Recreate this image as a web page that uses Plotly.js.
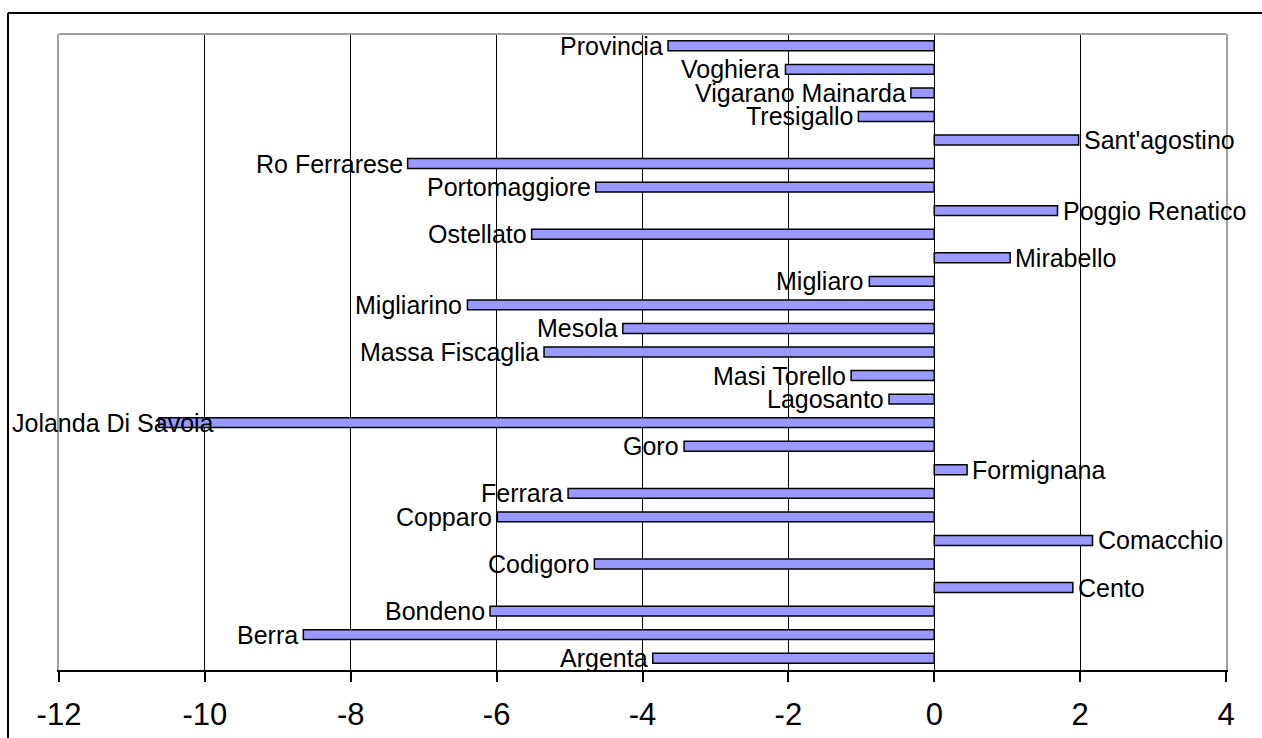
<!DOCTYPE html>
<html>
<head>
<meta charset="utf-8">
<script src="https://cdn.plot.ly/plotly-3.0.1.min.js"></script>
<style>
html,body{margin:0;padding:0;background:#fff;}
#chart{width:1262px;height:738px;}
</style>
</head>
<body>
<div id="chart"></div>
<script>
// Categories (bottom to top)
const comuni = [
  "Argenta","Berra","Bondeno","Cento","Codigoro","Comacchio","Copparo",
  "Ferrara","Formignana","Goro","Jolanda Di Savoia","Lagosanto","Masi Torello",
  "Massa Fiscaglia","Mesola","Migliarino","Migliaro","Mirabello","Ostellato",
  "Poggio Renatico","Portomaggiore","Ro Ferrarese","Sant'agostino","Tresigallo",
  "Vigarano Mainarda","Voghiera","Provincia"
];
const valori = [
  -3.86,-8.65,-6.09,1.90,-4.66,2.17,-5.99,
  -5.02,0.45,-3.43,-10.63,-0.62,-1.14,
  -5.35,-4.27,-6.40,-0.89,1.04,-5.52,
  1.69,-4.64,-7.22,1.98,-1.04,
  -0.32,-2.04,-3.65
];
const tickVals = [-12,-10,-8,-6,-4,-2,0,2,4];
const tickText = ["-12","-10","-8","-6","-4","-2","0","2","4"];

const FONT = "Liberation Sans, Arial, sans-serif";

const bars = {
  type: "bar",
  orientation: "h",
  x: valori,
  y: comuni,
  width: 0.42,
  marker: {color: "#9999FF", line: {color: "#000000", width: 1.5}},
  hoverinfo: "x+y",
  cliponaxis: false
};

const annotations = comuni.map((c, i) => {
  const v = valori[i];
  if (v < -10) {
    // label would run off the chart: pinned to the chart's left edge
    return {x: -0.042, xref: "paper", y: c, yref: "y", text: c, showarrow: false,
            xanchor: "left", yanchor: "middle", font: {family: FONT, size: 25, color: "#000"}};
  }
  return {x: v, xref: "x", y: c, yref: "y", text: c, showarrow: false,
          xanchor: v < 0 ? "right" : "left", xshift: v < 0 ? -3 : 3,
          yanchor: "middle", font: {family: FONT, size: 25, color: "#000"}};
});

const layout = {
  width: 1262, height: 738,
  margin: {l: 59, r: 36, t: 34, b: 68, pad: 0},
  paper_bgcolor: "#ffffff", plot_bgcolor: "#ffffff",
  showlegend: false,
  font: {family: FONT, color: "#000"},
  xaxis: {
    range: [-12, 4], tickvals: tickVals, ticktext: tickText,
    showgrid: true, gridcolor: "#000000", gridwidth: 1,
    zeroline: false,
    showline: true, linecolor: "#000000", linewidth: 2,
    ticks: "outside", ticklen: 10, tickwidth: 2, tickcolor: "#000000",
    tickfont: {family: FONT, size: 31, color: "#000"},
    ticklabelstandoff: 6,
    fixedrange: true
  },
  yaxis: {
    type: "category", categoryorder: "array", categoryarray: comuni,
    range: [-0.5, comuni.length - 0.5],
    showticklabels: false, ticks: "", showgrid: false, zeroline: false,
    showline: true, linecolor: "#A0A0A0", linewidth: 2, mirror: true,
    fixedrange: true
  },
  bargap: 0.6,
  annotations: annotations,
  shapes: [
    {type: "line", xref: "paper", yref: "paper", x0: 0, x1: 1, y0: 1, y1: 1,
     line: {color: "#A0A0A0", width: 2}},
    {type: "line", xref: "paper", yref: "paper", x0: -0.0437, x1: 1.1, y0: 1.033, y1: 1.033,
     line: {color: "#000000", width: 2}},
    {type: "line", xref: "paper", yref: "paper", x0: -0.0437, x1: -0.0437, y0: -0.2, y1: 1.033,
     line: {color: "#000000", width: 2}}
  ]
};

Plotly.newPlot("chart", [bars], layout, {displayModeBar: false, staticPlot: true});
</script>
</body>
</html>
